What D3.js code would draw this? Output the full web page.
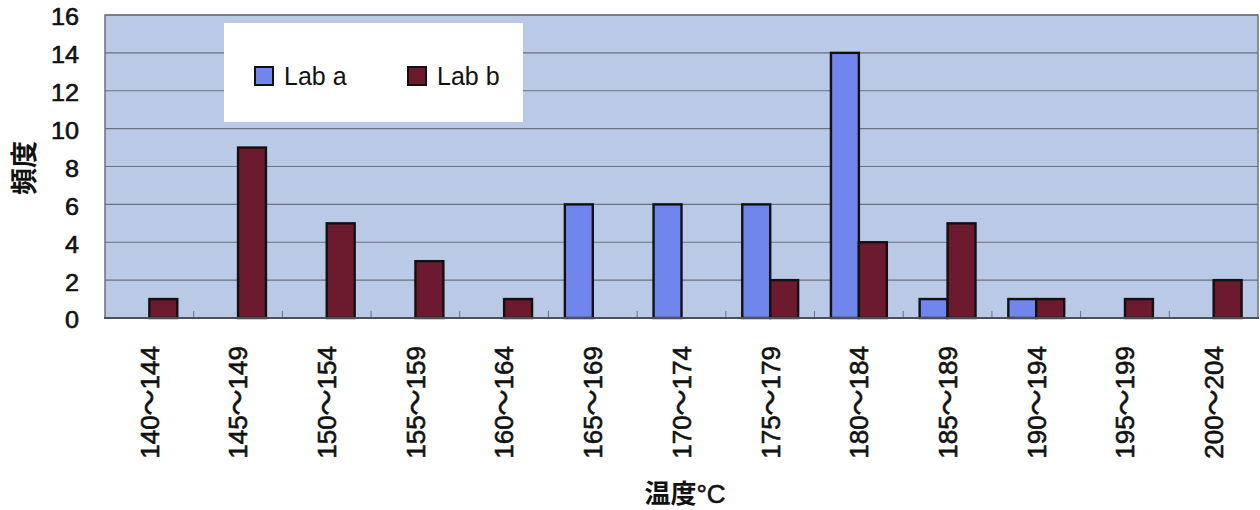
<!DOCTYPE html>
<html>
<head>
<meta charset="utf-8">
<script src="https://cdn.jsdelivr.net/npm/d3@7"></script>
<style>
  html, body { margin: 0; padding: 0; background: #ffffff; }
  svg { display: block; }
  .lbl { stroke: #111; stroke-width: 0.6px; paint-order: stroke; }
</style>
</head>
<body>
<svg id="chart" width="1260" height="510"></svg>
<script>
// Temperature bins and frequency counts for each lab
const categories = ["140～144", "145～149", "150～154", "155～159", "160～164", "165～169",
                    "170～174", "175～179", "180～184", "185～189", "190～194", "195～199", "200～204"];
const seriesNames = ["Lab a", "Lab b"];
const labA = [0, 0, 0, 0, 0, 6, 6, 6, 14, 1, 1, 0, 0];
const labB = [1, 9, 5, 3, 1, 0, 0, 2, 4, 5, 1, 1, 2];
const yTicks = [0, 2, 4, 6, 8, 10, 12, 14, 16];

const colors = { "Lab a": "#7186ec", "Lab b": "#6c1a2d" };
const latin = "'Liberation Sans', Arial, 'Noto Sans CJK JP', sans-serif";
const cjk = "'Noto Sans CJK JP', 'Liberation Sans', sans-serif";

const svg = d3.select("#chart");
const plot = { left: 105, right: 1258, top: 15, bottom: 318 };

const x = d3.scaleBand()
  .domain(categories)
  .range([plot.left, plot.right])
  .paddingInner(0.37)
  .paddingOuter(0.185);

const xs = d3.scaleBand()
  .domain(seriesNames)
  .range([0, x.bandwidth()]);

const y = d3.scaleLinear()
  .domain([0, 16])
  .range([plot.bottom, plot.top]);

// Plot area background
svg.append("rect")
  .attr("x", plot.left).attr("y", plot.top)
  .attr("width", plot.right - plot.left).attr("height", plot.bottom - plot.top)
  .attr("fill", "#b9c9e6");

// Horizontal gridlines
svg.append("g")
  .selectAll("line")
  .data(yTicks.filter(d => d > 0))
  .join("line")
  .attr("x1", plot.left).attr("x2", plot.right)
  .attr("y1", d => y(d)).attr("y2", d => y(d))
  .attr("stroke", "#6b717e").attr("stroke-width", 1.2);

// Plot border (left, right, top)
svg.append("path")
  .attr("d", `M${plot.left},${plot.bottom}V${plot.top}H${plot.right}V${plot.bottom}`)
  .attr("fill", "none").attr("stroke", "#6b717e").attr("stroke-width", 1.5);

// Category boundary ticks along the baseline
const step = x.step();
svg.append("g")
  .selectAll("line")
  .data(d3.range(1, categories.length))
  .join("line")
  .attr("x1", i => plot.left + i * step).attr("x2", i => plot.left + i * step)
  .attr("y1", plot.bottom - 7).attr("y2", plot.bottom)
  .attr("stroke", "#6b717e").attr("stroke-width", 1);

// Bars
const rows = categories.map((c, i) => ({ cat: c, values: [
  { name: "Lab a", v: labA[i] },
  { name: "Lab b", v: labB[i] }
] }));

svg.append("g")
  .selectAll("g")
  .data(rows)
  .join("g")
  .attr("transform", d => `translate(${x(d.cat)},0)`)
  .selectAll("rect")
  .data(d => d.values.filter(s => s.v > 0))
  .join("rect")
  .attr("x", d => xs(d.name))
  .attr("y", d => y(d.v))
  .attr("width", xs.bandwidth())
  .attr("height", d => y(0) - y(d.v))
  .attr("fill", d => colors[d.name])
  .attr("stroke", "#111111").attr("stroke-width", 2.4);

// Baseline
svg.append("line")
  .attr("x1", plot.left - 1).attr("x2", plot.right + 1)
  .attr("y1", plot.bottom).attr("y2", plot.bottom)
  .attr("stroke", "#4a4f5a").attr("stroke-width", 2);

// Y tick labels
svg.append("g")
  .selectAll("text")
  .data(yTicks)
  .join("text")
  .attr("class", "lbl")
  .attr("transform", d => `translate(79,${y(d) + 2}) scale(1.05,1)`)
  .attr("dy", "0.35em")
  .attr("text-anchor", "end")
  .attr("font-family", latin)
  .attr("font-size", 24)
  .attr("fill", "#111")
  .text(d => d);

// X tick labels, rotated
svg.append("g")
  .selectAll("text")
  .data(categories)
  .join("text")
  .attr("class", "lbl")
  .attr("transform", d => `translate(${x(d) + x.bandwidth() / 2},346) rotate(-90)`)
  .attr("dy", "0.36em")
  .attr("text-anchor", "end")
  .attr("font-family", latin)
  .attr("font-size", 26)
  .attr("fill", "#111")
  .text(d => d);

// Axis titles
svg.append("text")
  .attr("transform", `translate(24,168) rotate(-90)`)
  .attr("dy", "0.36em")
  .attr("text-anchor", "middle")
  .attr("font-family", cjk)
  .attr("font-weight", "bold")
  .attr("font-size", 27)
  .attr("fill", "#111")
  .text("頻度");

const xTitle = svg.append("text")
  .attr("x", 685).attr("y", 503)
  .attr("text-anchor", "middle")
  .attr("font-size", 26)
  .attr("fill", "#111");
xTitle.append("tspan")
  .attr("font-family", cjk)
  .attr("font-weight", "bold")
  .text("温度");
xTitle.append("tspan")
  .attr("font-family", latin)
  .attr("class", "lbl")
  .text("°C");

// Legend
const legend = svg.append("g");
legend.append("rect")
  .attr("x", 224).attr("y", 23)
  .attr("width", 299).attr("height", 99)
  .attr("fill", "#ffffff");

const legendX = [255, 408];
seriesNames.forEach((name, i) => {
  legend.append("rect")
    .attr("x", legendX[i]).attr("y", 67)
    .attr("width", 18).attr("height", 18)
    .attr("fill", colors[name])
    .attr("stroke", "#111").attr("stroke-width", 2);
  legend.append("text")
    .attr("x", legendX[i] + 29).attr("y", 85)
    .attr("font-family", latin)
    .attr("font-size", 25)
    .attr("fill", "#111")
    .text(name);
});
</script>
</body>
</html>
